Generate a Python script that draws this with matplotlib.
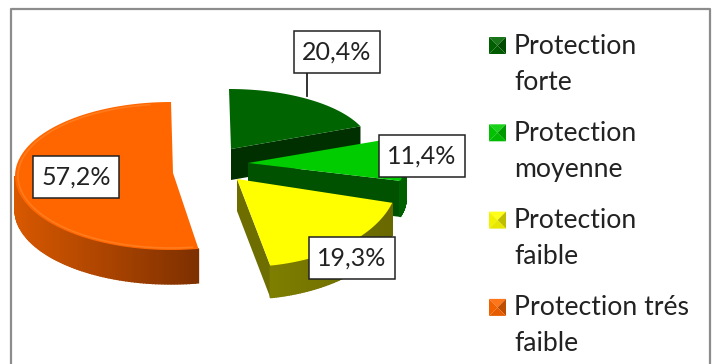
import numpy as np
import matplotlib
matplotlib.use("Agg")
import matplotlib.pyplot as plt
from matplotlib.colors import to_rgb
from matplotlib.patches import Polygon, Rectangle

plt.rcParams['font.family'] = ['Lato', 'DejaVu Sans']

# === Data ===
categories = ["Protection\nforte", "Protection\nmoyenne", "Protection\nfaible", "Protection trés\nfaible"]
values = [20.4, 11.4, 19.3, 57.2]
value_labels = ["20,4%", "11,4%", "19,3%", "57,2%"]

# === Styles ===
top_colors = ["#006400", "#00CC00", "#FFFF00", "#FF6600"]
side_colors = ["#003000", "#005200", "#6E6E00", "#C45000"]
wall_left = ["#004000", "#006000", "#7E7E00", "#D85800"]
wall_right = ["#004000", "#006000", "#686800", "#7E3000"]
apexes = [(231, 149), (248, 163), (237, 179), (173, 173)]
centers = [(229, 149), (248, 163), (243, 179), (171, 176)]
radii = [(142, 60), (158, 66), (155, 88), (156, 74)]
depths = [31, 36, 32, 34]
label_centers = [(337, 52), (422, 156), (352, 258), (76, 177)]


def arc(center, radius, a0, a1, n=80):
    # angles in degrees, clockwise from north
    t = np.radians(np.linspace(a0, a1, n))
    return np.column_stack([center[0] + radius[0] * np.sin(t), center[1] - radius[1] * np.cos(t)])


def mix(c1, c2, f):
    return tuple((1 - f) * np.array(to_rgb(c1)) + f * np.array(to_rgb(c2)))


def draw_wedge(ax, i, a0, a1):
    apex, center, radius, depth = apexes[i], centers[i], radii[i], depths[i]
    pts = arc(center, radius, a0, a1)
    down = np.array([0, depth])

    # cut face on the clockwise end, orange one faces away
    if i < 3:
        end = pts[-1]
        ax.add_patch(Polygon([apex, end, end + down, np.array(apex) + down],
                             color=side_colors[i], lw=0))

    # outer wall, only the front half of the ellipse shows
    lo, hi = max(a0, 90), min(a1, 270)
    if hi > lo:
        wall = arc(center, radius, lo, hi, 90)
        xs = wall[:, 0]
        for k in range(len(wall) - 1):
            f = (xs.max() - xs[k]) / (xs.max() - xs.min())
            c = mix(wall_right[i], wall_left[i], f)
            ax.add_patch(Polygon([wall[k], wall[k + 1], wall[k + 1] + down, wall[k] + down],
                                 facecolor=c, edgecolor=c, lw=1.0))

    # top face
    ax.add_patch(Polygon(np.vstack([apex, pts]), color=top_colors[i], lw=0))
    if i == 3:
        # soft rim on the bevel
        rim = arc(center, (radius[0] - 3, radius[1] - 2), 172, 352)
        ax.plot(rim[:, 0], rim[:, 1], color="#FF8429", lw=1.2, alpha=0.7)


def draw_legend_key(ax, x, y, color):
    size = 17
    corners = [(x, y), (x + size, y), (x + size, y + size), (x, y + size)]
    mid = (x + size / 2, y + size / 2)
    shades = [mix(color, "white", 0.1), mix(color, "black", 0.25),
              mix(color, "black", 0.1), mix(color, "black", 0.05)]
    for k in range(4):
        ax.add_patch(Polygon([corners[k], corners[(k + 1) % 4], mid], color=shades[k], lw=0))


def main():
    fig = plt.figure(figsize=(7.13, 3.64), dpi=100)
    ax = fig.add_axes([0, 0, 1, 1])
    ax.set_xlim(0, 713)
    ax.set_ylim(364, 0)
    ax.axis("off")

    # === Frame, open at the bottom ===
    ax.plot([11, 11, 710, 710], [364, 8.5, 8.5, 364], color="#8C8C8C", lw=1.6)

    # === Pie ===
    angles = np.concatenate([[0], np.cumsum(values) / np.sum(values) * 360])
    for i in [3, 0, 1, 2]:
        draw_wedge(ax, i, angles[i], angles[i + 1])

    # === Data labels ===
    ax.plot([307, 307], [73, 96], color="#222222", lw=1.3)
    for text, (x, y) in zip(value_labels, label_centers):
        ax.add_patch(Rectangle((x - 43, y - 21), 86, 42, facecolor="white", edgecolor="#222222", lw=1.1, zorder=5))
        ax.text(x, y, text, ha="center", va="center", fontsize=18, color="#222222", zorder=6)

    # === Legend ===
    for i, name in enumerate(categories):
        y = 37 + i * 87.3
        draw_legend_key(ax, 489, y, top_colors[i])
        ax.text(514, y + 9, name.split("\n")[0], va="center", fontsize=19.2, color="#222222")
        ax.text(514, y + 45, name.split("\n")[1], va="center", fontsize=19.2, color="#222222")

    fig.savefig("out.png", dpi=100)
    plt.close(fig)


if __name__ == "__main__":
    main()
